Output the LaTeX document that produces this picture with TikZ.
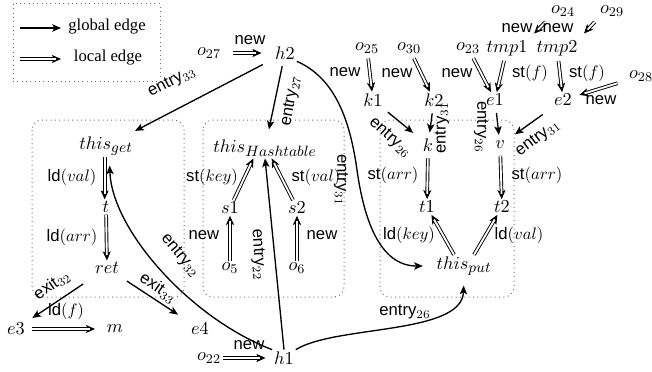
\documentclass[tikz,border=0pt]{standalone}
\usepackage{fontspec}
\setsansfont{Liberation Sans}
\newfontfamily\legendfont{Liberation Serif}
\usetikzlibrary{arrows.meta}
\newcommand\thisof[2][9]{this_{\mbox{\fontsize{#1}{#1}\selectfont$#2$}}}
\begin{document}
\begin{tikzpicture}[x=0.6pt,y=-0.6pt,
  mn/.style={inner sep=1pt,font=\fontsize{11}{13}\selectfont},
  lb/.style={inner sep=0pt,font=\sffamily\fontsize{10}{12}\selectfont},
  lg/.style={inner sep=0pt,font=\legendfont\fontsize{10}{12}\selectfont},
  glob/.style={line width=0.8pt,-{Stealth[length=5.2pt,width=4.4pt,inset=1.2pt]}},
  loc/.style={preaction={draw,line width=0.5pt,shorten >=#1,-{Stealth[length=5.4pt,width=4.8pt,inset=1.2pt]}},draw,double,double distance=1.1pt,line width=0.55pt,shorten >={#1+3.2pt}},
  loc/.default=0pt,
  grp/.style={draw=black!55,dotted,line width=0.6pt,rounded corners=6pt},
  lgbox/.style={draw=black!55,dotted,line width=0.6pt},
]
\useasboundingbox (0,0) rectangle (652,371);
% legend
\draw[lgbox] (13,4) rectangle (160,82);
\coordinate (lga) at (20,28); \coordinate (lgb) at (61,28);
\coordinate (lla) at (20,59); \coordinate (llb) at (61,59);
\draw[glob] (lga) -- (lgb);
\draw[loc] (lla) -- (llb);
\node[lg] (tglob) at (107,27) {global edge};
\node[lg] (tloc) at (108,58) {local edge};
% groups
\draw[grp] (32,120) rectangle (184,297);
\draw[grp] (203,120) rectangle (344,297);
\draw[grp] (380,120) rectangle (514,297);
% nodes
\node[mn] (o27) at (209,53) {$o_{27}$};
\node[mn] (h2) at (285,53) {$h2$};
\node[mn] (o25) at (367,48) {$o_{25}$};
\node[mn] (o30) at (409,48) {$o_{30}$};
\node[mn] (o23) at (468,48) {$o_{23}$};
\node[mn] (tmp1) at (507,48) {$tmp1$};
\node[mn] (tmp2) at (557,48) {$tmp2$};
\node[mn] (o24) at (563,11) {$o_{24}$};
\node[mn] (o29) at (612,11) {$o_{29}$};
\node[mn] (o28) at (641,76) {$o_{28}$};
\node[mn] (k1) at (373,100) {$k1$};
\node[mn] (k2) at (434,100) {$k2$};
\node[mn] (e1) at (495,100) {$e1$};
\node[mn] (e2) at (563,100) {$e2$};
\node[mn] (k) at (428,145) {$k$};
\node[mn] (v) at (500,145) {$v$};
\node[mn] (t1) at (427,207) {$t1$};
\node[mn] (t2) at (502,207) {$t2$};
\node[mn] (thisput) at (464,266) {$\thisof{put}$};
\node[mn] (thisget) at (106,146) {$\thisof{get}$};
\node[mn] (t) at (106,207) {$t$};
\node[mn] (ret) at (107,268) {$ret$};
\node[mn] (thisH) at (265,148) {$\thisof[9.5]{Hashtable}$};
\node[mn] (s1) at (230,208) {$s1$};
\node[mn] (s2) at (297,208) {$s2$};
\node[mn] (o5) at (230,268) {$o_5$};
\node[mn] (o6) at (297,268) {$o_6$};
\node[mn] (e3) at (16,329) {$e3$};
\node[mn] (m) at (115,329) {$m$};
\node[mn] (e4) at (200,329) {$e4$};
\node[mn] (o22) at (209,358) {$o_{22}$};
\node[mn] (h1) at (284,358) {$h1$};
% local edges
\draw[loc=7pt,shorten <=6pt] (o27) -- (h2);
\draw[loc,shorten <=2pt] (o25) -- (k1);
\draw[loc,shorten <=2pt] (o30) -- (k2);
\draw[loc,shorten <=2pt] (o23) -- (e1);
\draw[loc,shorten <=2pt] (tmp1) -- (e1);
\draw[loc,shorten <=2pt] (tmp2) -- (e2);
\draw[loc=4pt,shorten <=3pt] (o24.south west) -- (tmp1.north east);
\draw[loc=4pt,shorten <=3pt] (o29.south west) -- (tmp2.north east);
\draw[loc=3.5pt,shorten <=6pt] (o28) -- (e2);
\draw[loc,shorten <=3pt] (k) -- (t1);
\draw[loc,shorten <=3pt] (v) -- (t2);
\draw[loc] ([xshift=-6pt]thisput.north) -- (t1);
\draw[loc] ([xshift=6pt]thisput.north) -- (t2);
\draw[loc] (s1) -- ([xshift=-7pt]thisH.south);
\draw[loc] (s2) -- ([xshift=4pt]thisH.south);
\draw[loc] (o5) -- (s1);
\draw[loc] (o6) -- (s2);
\draw[loc] ([xshift=-0.8pt]thisget.south) -- ([xshift=-0.8pt]t.north);
\draw[loc] (t) -- (ret);
\draw[loc=6pt,shorten <=3pt] (e3) -- (m);
\draw[loc=4pt] (o22) -- (h1);
% global edges
\draw[glob,shorten <=3.5pt,shorten >=6pt] (k1) -- (k);
\draw[glob,shorten <=3pt,shorten >=2.5pt] (k2) -- (k);
\draw[glob,shorten <=3pt,shorten >=2.5pt] (e1) -- (v);
\draw[glob,shorten <=7pt,shorten >=6pt] (e2) -- (v);
\draw[glob,shorten <=9pt,shorten >=4pt] (ret) -- (e3);
\draw[glob,shorten <=6pt,shorten >=8pt] (ret) -- (e4);
\draw[glob,shorten <=7pt,shorten >=5pt] (h2) -- (thisget);
\draw[glob,shorten <=3pt,shorten >=5pt] (h2) -- (thisH);
\draw[glob,shorten >=7pt] (h2.south east) .. controls (335,78) and (350,120) .. (357,170) .. controls (364,220) and (380,266) .. (thisput.west);
\draw[glob,shorten >=5pt] (h1.north west) .. controls (190,318) and (112,230) .. ([xshift=2pt]thisget.south);
\draw[glob] (h1.north) -- (thisH.south);
\draw[glob,shorten >=5pt] (h1.north east) .. controls (335,325) and (462,335) .. (thisput.south);
% labels
\node[lb] (ln1) at (250,40) {new};
\node[lb] (ln2) at (345,72) {new};
\node[lb] (ln3) at (397,73) {new};
\node[lb] (ln4) at (457,73) {new};
\node[lb] (ls1) at (530,73) {st$(f)$};
\node[lb] (ls2) at (587,73) {st$(f)$};
\node[lb] (ln7) at (517,28) {new};
\node[lb] (ln8) at (558,28) {new};
\node[lb] (ln9) at (601,100) {new};
\node[lb] (lsk) at (212,177) {st$(key)$};
\node[lb] (lsv) at (316,177) {st$(val)$};
\node[lb] (ln5) at (204,235) {new};
\node[lb] (ln6) at (322,235) {new};
\node[lb] (lv) at (72,177) {ld$(val)$};
\node[lb] (la) at (72,237) {ld$(arr)$};
\node[lb] (lsa1) at (393,175) {st$(arr)$};
\node[lb] (lsa2) at (537,175) {st$(arr)$};
\node[lb] (llk) at (409,235) {ld$(key)$};
\node[lb] (llv) at (519,235) {ld$(val)$};
\node[lb] (llf) at (66,311) {ld$(f)$};
\node[lb,rotate=34] (lx32) at (52,285) {exit$_{32}$};
\node[lb,rotate=-34] (lx33) at (158,288) {exit$_{33}$};
\node[lb] (ln22) at (249,345) {new};
\node[lb,rotate=27] (le33) at (172,82) {entry$_{33}$};
\node[lb,rotate=80] (le27) at (291,101) {entry$_{27}$};
\node[lb,rotate=-90] (le31a) at (341,180) {entry$_{31}$};
\node[lb,rotate=-86] (le22) at (258,255) {entry$_{22}$};
\node[lb,rotate=-50] (le32) at (180,256) {entry$_{32}$};
\node[lb,rotate=-42] (le26a) at (390,138) {entry$_{26}$};
\node[lb,rotate=90] (le31b) at (442,128) {entry$_{31}$};
\node[lb,rotate=-90] (le26b) at (481,127) {entry$_{26}$};
\node[lb,rotate=37] (le31c) at (538,138) {entry$_{31}$};
\node[lb] (le26c) at (405,312) {entry$_{26}$};
\end{tikzpicture}
\end{document}
